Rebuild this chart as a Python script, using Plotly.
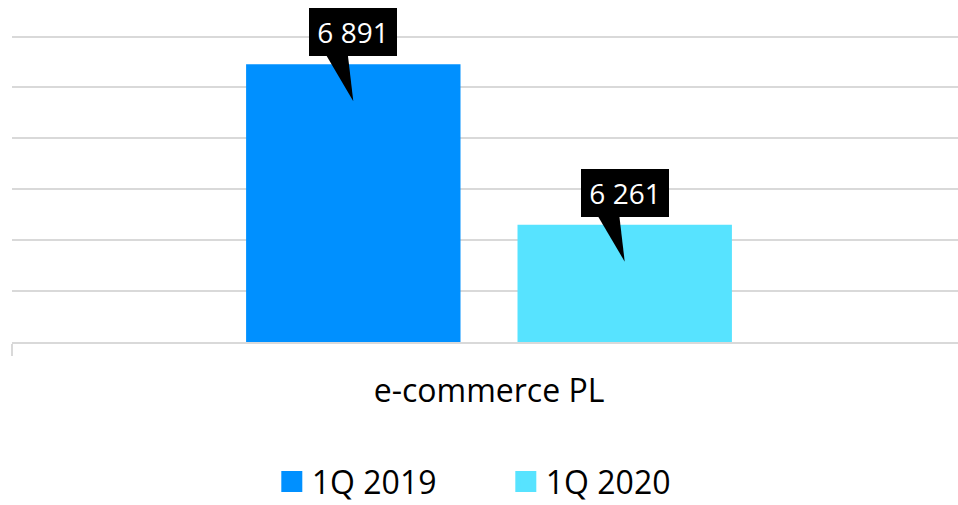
import plotly.graph_objects as go

categories = ["e-commerce PL"]
series_names = ["1Q 2019", "1Q 2020"]
values_2019 = [6891]
values_2020 = [6261]
label_texts = ["6 891", "6 261"]
colors = ["#0090ff", "#57e3ff"]

BARGAP = 0.431
BARGROUPGAP = 0.21
FONT = "Open Sans"

fig = go.Figure()
for name, vals, col in zip(series_names, [values_2019, values_2020], colors):
    fig.add_trace(go.Bar(x=categories, y=vals, name=name, marker_color=col,
                         marker_line_width=0, showlegend=False, hoverinfo="y"))
# legend entries with larger square symbols
for name, col in zip(series_names, colors):
    fig.add_trace(go.Scatter(x=[None], y=[None], mode="markers", name=name,
                             marker=dict(symbol="square", size=16, color=col,
                                         line=dict(color=col, width=5)),
                             showlegend=True))

# callouts
offset = (1 - BARGAP) / 4
centers = [-offset, offset]
all_vals = [values_2019[0], values_2020[0]]
for cx, v, txt in zip(centers, all_vals, label_texts):
    fig.add_annotation(x=cx, y=v, xref="x", yref="y", text=txt, showarrow=False,
                       yanchor="bottom", xanchor="center", yshift=8,
                       width=88, height=48, borderpad=0, borderwidth=0,
                       bgcolor="black", font=dict(family=FONT, size=28, color="white"))
    fig.add_shape(type="path", xref="x", yref="y", xsizemode="pixel", ysizemode="pixel",
                  xanchor=cx, yanchor=v,
                  path="M -30 14 L -6 14 L 0 -37 Z",
                  fillcolor="black", line=dict(width=0), layer="above")

fig.update_layout(
    width=958, height=505,
    margin=dict(l=12, r=0, t=34.5, b=163, autoexpand=False),
    paper_bgcolor="white", plot_bgcolor="white",
    barmode="group", bargap=BARGAP, bargroupgap=BARGROUPGAP,
    font=dict(family=FONT, color="black"),
    showlegend=True,
    legend=dict(orientation="h", x=0.522, xanchor="center", y=-0.455, yanchor="middle",
                font=dict(family=FONT, size=32, color="black"),
                entrywidth=189, entrywidthmode="pixels",
                bgcolor="rgba(0,0,0,0)"),
    xaxis=dict(type="category", range=[-0.5, 0.4916], tickson="boundaries",
               ticks="outside", ticklen=12, tickwidth=1.5, tickcolor="#d9d9d9",
               showline=True, linecolor="#d9d9d9", linewidth=1.5, showgrid=False,
               ticklabelstandoff=20, automargin=False,
               tickfont=dict(family=FONT, size=32, color="black"), fixedrange=True),
    yaxis=dict(range=[5800, 7006], tick0=5800, dtick=200, showticklabels=False,
               gridcolor="#d9d9d9", gridwidth=1.5, zeroline=False, fixedrange=True,
               automargin=False),
)

fig.write_html("out.html", config={"displayModeBar": False},
               post_script="document.body.style.margin='0';document.body.style.overflow='hidden';")
